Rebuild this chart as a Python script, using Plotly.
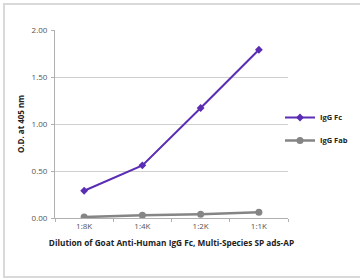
import plotly.graph_objects as go

categories = ["1:8K", "1:4K", "1:2K", "1:1K"]
igg_fc = [0.29, 0.56, 1.17, 1.79]
igg_fab = [0.01, 0.03, 0.04, 0.06]
y_ticks = [0.0, 0.5, 1.0, 1.5, 2.0]
y_tick_labels = ["0.00", "0.50", "1.00", "1.50", "2.00"]

W, H = 360, 280
L, R, T, B = 55, 72, 30, 62
pw, ph = W - L - R, H - T - B

def px_x(p):
    return (p - L) / pw

def px_y(p):
    return (H - B - p) / ph

FONT = "Open Sans"

fig = go.Figure()
fig.add_trace(go.Scatter(
    x=categories, y=igg_fc, name="IgG Fc", mode="lines+markers",
    line=dict(color="#5a2db4", width=2),
    marker=dict(symbol="diamond", size=6, color="#5a2db4"),
    legendgroup="a",
))
fig.add_trace(go.Scatter(
    x=categories, y=igg_fab, name="IgG Fab", mode="lines+markers",
    line=dict(color="#858585", width=2.5),
    marker=dict(symbol="circle", size=7, color="#858585"),
    legendgroup="b",
))

fig.update_layout(
    width=W, height=H,
    margin=dict(l=L, r=R, t=T, b=B, autoexpand=False),
    paper_bgcolor="white", plot_bgcolor="white",
    font=dict(family=FONT, size=7, color="#333"),
    showlegend=True,
    legend=dict(
        x=px_x(280), y=px_y(103), xanchor="left", yanchor="top",
        font=dict(family=FONT, size=7.5, color="#222", weight="bold"),
        traceorder="grouped", tracegroupgap=4, itemwidth=30,
        bgcolor="rgba(0,0,0,0)",
    ),
    xaxis=dict(
        type="category", range=[-0.5, 3.5], automargin=False,
        showgrid=False, showline=True, linecolor="#b0b0b0", linewidth=1,
        ticks="outside", tickson="boundaries", ticklen=3, tickcolor="#b0b0b0",
        tickfont=dict(family=FONT, size=8, color="#555"),
        title=dict(text="Dilution of Goat Anti-Human IgG Fc, Multi-Species SP ads-AP",
                   font=dict(family=FONT, size=8.25, color="#222", weight="bold"),
                   standoff=10),
        zeroline=False,
    ),
    yaxis=dict(
        range=[0, 2.0], tickvals=y_ticks, ticktext=y_tick_labels, automargin=False,
        showgrid=True, gridcolor="#cfcfcf", gridwidth=1,
        showline=True, linecolor="#b0b0b0", linewidth=1,
        ticks="outside", ticklen=3, tickcolor="#b0b0b0",
        ticklabelstandoff=2,
        tickfont=dict(family=FONT, size=8, color="#555"),
        title=dict(text="O.D. at 405 nm",
                   font=dict(family=FONT, size=8, color="#222", weight="bold"),
                   standoff=5),
        zeroline=False,
    ),
)

fig.add_shape(type="rect", xref="paper", yref="paper",
              x0=px_x(4), x1=px_x(364), y0=px_y(277), y1=px_y(4),
              line=dict(color="#d9d9d9", width=2), fillcolor="rgba(0,0,0,0)",
              layer="below")

fig.write_html("out.html", config={"displayModeBar": False},
               post_script="document.body.style.margin='0';document.body.style.overflow='hidden';")
